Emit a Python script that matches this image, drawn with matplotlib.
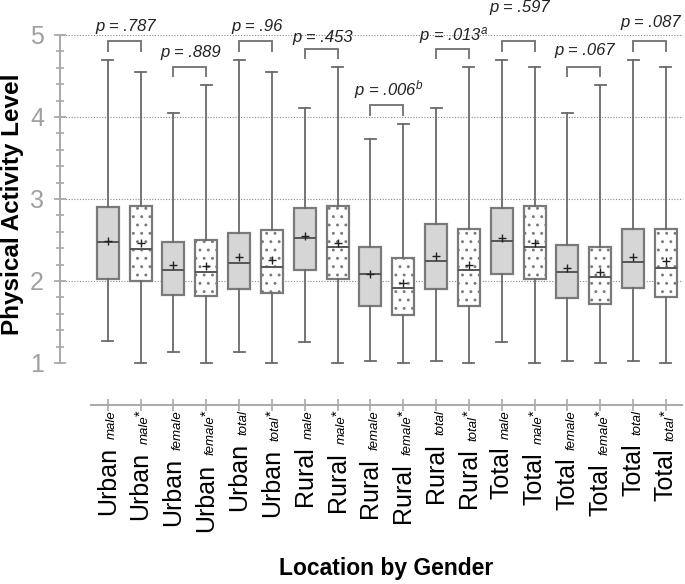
import matplotlib
matplotlib.use("Agg")
import matplotlib.pyplot as plt
from matplotlib.transforms import IdentityTransform
from matplotlib.font_manager import FontProperties
from matplotlib.ticker import MultipleLocator

plt.rcParams['font.family'] = ['Liberation Sans', 'DejaVu Sans']
plt.rcParams['mathtext.fontset'] = 'custom'
plt.rcParams['mathtext.it'] = 'Liberation Sans:italic'
plt.rcParams['mathtext.rm'] = 'Liberation Sans:italic'
plt.rcParams['hatch.linewidth'] = 0.9
plt.rcParams['hatch.color'] = '#222222'

# ---------------- data ----------------
locations = ["Urban"] * 6 + ["Rural"] * 6 + ["Total"] * 6
genders = ["male", "male", "female", "female", "total", "total"] * 3
starred = [False, True] * 9

whislo = [1.27, 1.00, 1.13, 1.00, 1.13, 1.00, 1.26, 1.00, 1.03, 1.00, 1.03, 1.00, 1.26, 1.00, 1.03, 1.00, 1.03, 1.00]
q1     = [2.03, 2.00, 1.83, 1.82, 1.90, 1.85, 2.14, 2.03, 1.70, 1.58, 1.90, 1.70, 2.08, 2.02, 1.79, 1.72, 1.91, 1.81]
medians = [2.47, 2.39, 2.14, 2.11, 2.22, 2.17, 2.52, 2.42, 2.08, 1.92, 2.24, 2.14, 2.49, 2.41, 2.11, 2.05, 2.23, 2.16]
q3     = [2.90, 2.91, 2.48, 2.50, 2.59, 2.62, 2.89, 2.92, 2.42, 2.28, 2.69, 2.64, 2.89, 2.91, 2.44, 2.42, 2.63, 2.64]
whishi = [4.70, 4.55, 4.05, 4.39, 4.70, 4.55, 4.11, 4.61, 3.73, 3.92, 4.11, 4.61, 4.70, 4.61, 4.05, 4.39, 4.70, 4.61]
means  = [2.49, 2.46, 2.20, 2.18, 2.29, 2.26, 2.55, 2.46, 2.09, 1.98, 2.30, 2.20, 2.52, 2.46, 2.16, 2.11, 2.29, 2.25]

p_values = [".787", ".889", ".96", ".453", ".006", ".013", ".597", ".067", ".087"]
p_marks = ["", "", "", "", "b", "a", "", "", ""]
p_text_gap_px = [10, 9.5, 10, 6.5, 9.5, 8.5, 29, 11.5, 14]   # layout: label baseline above bracket

y_ticks = [1, 2, 3, 4, 5]
y_label = "Physical Activity Level"
x_label = "Location by Gender"

# ---------------- figure ----------------
W, H = 685, 584
fig = plt.figure(figsize=(W / 100, H / 100), dpi=100)
ax = fig.add_axes([60 / W, 1 - 363 / H, (683 - 60) / W, (363 - 35) / H])

positions = list(range(1, len(medians) + 1))
stats = []
for i in range(len(medians)):
    stats.append(dict(med=medians[i], q1=q1[i], q3=q3[i], whislo=whislo[i],
                      whishi=whishi[i], mean=means[i], fliers=[]))

edge = '#7a7a7a'
bp = ax.bxp(stats, positions=positions, widths=0.67, showmeans=True,
            patch_artist=True, showfliers=False,
            boxprops=dict(edgecolor=edge, linewidth=1.6),
            medianprops=dict(color='#555555', linewidth=1.4),
            whiskerprops=dict(color='#6a6a6a', linewidth=1.3),
            capprops=dict(color='#6a6a6a', linewidth=1.3),
            meanprops=dict(marker='+', markeredgecolor='#222222', markersize=6,
                           markeredgewidth=1.0, linestyle='none'),
            manage_ticks=False)
for patch, st in zip(bp['boxes'], starred):
    if st:
        patch.set_facecolor('white')
        patch.set_hatch('..')
    else:
        patch.set_facecolor('#d6d6d6')
    patch.set_edgecolor(edge)
for k in ['whiskers', 'caps', 'medians', 'means', 'boxes']:
    for a in bp[k]:
        a.set_clip_on(False)

ax.set_xlim(-0.452, 18.52)
ax.set_ylim(1, 5)

# grid
for yv in y_ticks:
    ax.axhline(yv, color='#8a8a8a', linestyle=(0, (1, 1.5)), linewidth=0.8, zorder=0)

# spines
for s in ['top', 'right']:
    ax.spines[s].set_visible(False)
ax.spines['left'].set_color('#a8a8a8')
ax.spines['left'].set_linewidth(1.4)
ax.spines['left'].set_bounds(1, 5)
ax.spines['bottom'].set_color('#a8a8a8')
ax.spines['bottom'].set_linewidth(1.4)
ax.spines['bottom'].set_position(('outward', 30))
ax.spines['bottom'].set_bounds(0.5, 18.5)

ax.set_yticks(y_ticks)
ax.set_yticklabels([str(v) for v in y_ticks])
ax.yaxis.set_minor_locator(MultipleLocator(0.2))
ax.tick_params(axis='y', which='major', direction='inout', length=9, width=1.3,
               colors='#a8a8a8', labelsize=18, labelcolor='#a0a0a0', pad=7)
ax.tick_params(axis='y', which='minor', direction='inout', length=6, width=1.2,
               colors='#a8a8a8')
ax.set_xticks(positions)
ax.set_xticklabels([])
ax.tick_params(axis='x', which='major', direction='inout', length=9, width=1.2,
               colors='#a8a8a8')
ax.set_facecolor('none')

# brackets with p-values
for j in range(len(p_values)):
    a, b = positions[2 * j], positions[2 * j + 1]
    top = max(whishi[2 * j], whishi[2 * j + 1]) + 0.225
    ax.plot([a, a, b, b], [top - 0.12, top, top, top - 0.12], color='#7a7a7a',
            linewidth=1.4, clip_on=False, solid_joinstyle='miter')
    txt = "p = " + p_values[j] + (r"$^{" + p_marks[j] + "}$" if p_marks[j] else "")
    ax.annotate(txt, xy=((a + b) / 2, top), xytext=(1, p_text_gap_px[j] * 0.72),
                textcoords='offset points', ha='center', va='baseline',
                fontsize=12, fontstyle='italic', color='#222222', annotation_clip=False)

# axis labels
fig.text(13 / W, 1 - 204 / H, y_label, rotation=90, ha='center', va='center',
         fontsize=17.5, fontweight='bold')
fig.text(386 / W, 1 - 569 / H, x_label, ha='center', va='center',
         fontsize=16.5, fontweight='bold')

# composite rotated tick labels
fig.canvas.draw()
renderer = fig.canvas.get_renderer()
fp_main = FontProperties(family='Liberation Sans', size=18)
fp_it = FontProperties(family='Liberation Sans', style='italic', size=9.5)
fp_star = FontProperties(family='Liberation Sans', size=10.5)


def text_w(s, fp):
    w, h, d = renderer.get_text_width_height_descent(s, fp, ismath=False)
    return w


y_top = H - 410
for pos, loc, gen, st in zip(positions, locations, genders, starred):
    xd = ax.transData.transform((pos, 1))[0]
    xb = xd + 7
    y = y_top
    if st:
        fig.text(xb - 3, y, '*', transform=IdentityTransform(), rotation=90,
                 rotation_mode='anchor', ha='right', va='baseline', fontproperties=fp_star)
        y -= text_w('*', fp_star)
    fig.text(xb, y, gen, transform=IdentityTransform(), rotation=90,
             rotation_mode='anchor', ha='right', va='baseline', fontproperties=fp_it)
    y -= text_w(gen, fp_it) + 8
    fig.text(xb, y, loc, transform=IdentityTransform(), rotation=90,
             rotation_mode='anchor', ha='right', va='baseline', fontproperties=fp_main)

fig.savefig("out.png", dpi=100)
